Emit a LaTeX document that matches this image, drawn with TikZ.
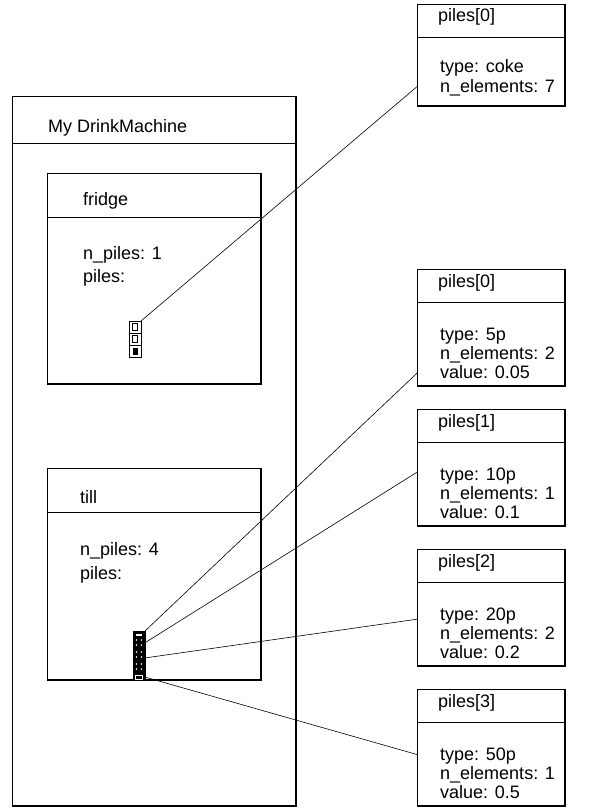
\documentclass[tikz,border=0pt]{standalone}
\usepackage{fontspec}
\setmainfont{Liberation Sans}
\usetikzlibrary{positioning,calc}

\begin{document}
\begin{tikzpicture}[
  x=1pt, y=-1pt,
  font=\fontsize{18}{19}\selectfont,
  obj/.style={draw, line width=0.7pt, inner sep=0pt, outer sep=0pt,
              anchor=north west},
  pile/.style={obj, minimum width=148pt, minimum height=117pt},
  edge/.style={line width=1.5pt},
  lbl/.style={anchor=base west, inner sep=0pt},
  link/.style={line width=0.6pt},
]
  \useasboundingbox (0,0) rectangle (595,810);

  % the machine and its two members
  \node[obj, minimum width=284pt, minimum height=710pt] (mach) at (12,96) {};
  \node[obj, minimum width=214pt, minimum height=211pt] (fr) at (47,173) {};
  \node[obj, minimum width=214pt, minimum height=212pt] (tl) at (47,468) {};

  % the piles
  \node[pile, minimum height=102pt] (tp) at (417,4) {};
  \node[pile] (p0) at (417,269) {};
  \node[pile] (p1) at (417,409) {};
  \node[pile] (p2) at (417,549) {};
  \node[pile] (p3) at (417,689) {};

  % header lines
  \draw[line width=0.7pt] ([yshift=-47pt]mach.north west) -- ([yshift=-47pt]mach.north east);
  \foreach \b in {fr,tl}
    \draw[line width=0.7pt] ([yshift=-44pt]\b.north west) -- ([yshift=-44pt]\b.north east);
  \foreach \b in {tp,p0,p1,p2,p3}
    \draw[line width=0.7pt] ([yshift=-33pt]\b.north west) -- ([yshift=-33pt]\b.north east);

  % heavier right and bottom edges
  \foreach \b in {mach,fr,tl,tp,p0,p1,p2,p3}
    \draw[edge] (\b.north east) -- (\b.south east) -- (\b.south west);

  % texts
  \node[lbl] (machname) at ([xshift=36pt,yshift=-37pt]mach.north west) {My DrinkMachine};

  \node[lbl] (frname) at ([xshift=36pt,yshift=-33pt]fr.north west) {fridge};
  \node[lbl] (frn) at ([xshift=36pt,yshift=-86pt]fr.north west) {n\_piles: 1};
  \node[lbl] (frp) at ([xshift=36pt,yshift=-109pt]fr.north west) {piles:};

  \node[lbl] (tlname) at ([xshift=33pt,yshift=-35pt]tl.north west) {till};
  \node[lbl] (tln) at ([xshift=33pt,yshift=-87pt]tl.north west) {n\_piles: 4};
  \node[lbl] (tlp) at ([xshift=33pt,yshift=-111pt]tl.north west) {piles:};

  \foreach \b/\i in {tp/0,p0/0,p1/1,p2/2,p3/3}
    \node[lbl] (\b name) at ([xshift=21pt,yshift=-18pt]\b.north west) {piles[\i]};

  \node[lbl] (tpa) at ([xshift=23pt,yshift=-69pt]tp.north west) {type: coke};
  \node[lbl] (tpb) at ([xshift=23pt,yshift=-89pt]tp.north west) {n\_elements: 7};

  \foreach \b/\t/\n/\v in {p0/5p/2/0.05, p1/10p/1/0.1, p2/20p/2/0.2, p3/50p/1/0.5} {
    \node[lbl] (\b a) at ([xshift=23pt,yshift=-71pt]\b.north west) {type: \t};
    \node[lbl] (\b b) at ([xshift=23pt,yshift=-90pt]\b.north west) {n\_elements: \n};
    \node[lbl] (\b c) at ([xshift=23pt,yshift=-109pt]\b.north west) {value: \v};
  }

  % pointer arrays
  \node[obj, line width=1pt, minimum width=12pt, minimum height=36pt] (fa) at (129,321) {};
  \foreach \k in {1,2}
    \draw[line width=1pt] ([yshift=-12*\k pt]fa.north west) -- ([yshift=-12*\k pt]fa.north east);
  \foreach \k in {0,1}
    \draw[line width=0.8pt] ([xshift=3.5pt,yshift=-2.5pt-12*\k pt]fa.north west) rectangle ++(5,7);
  \fill ([xshift=3.5pt,yshift=-26.5pt]fa.north west) rectangle ++(5,7);

  \node[obj, fill=black, minimum width=12pt, minimum height=49pt] (ta) at (133,631) {};
  \fill[white] ([xshift=3pt,yshift=-3pt]ta.north west) rectangle ++(6,1.5);
  \foreach \r in {9,14,21,26,33,38}
    \foreach \c in {3.5,8.5}
      \fill[white] ([xshift=\c pt,yshift=-\r pt]ta.north west) circle (0.8);
  \draw[white, line width=0.8pt] ([xshift=2.5pt,yshift=-44pt]ta.north west) rectangle ++(7,4);

  % links from the arrays to the piles
  \draw[link] (fa.north east) -- ($(tp.north west)!0.81!(tp.south west)$);
  \draw[link] (ta.north east) -- ($(p0.north west)!0.89!(p0.south west)$);
  \draw[link] ($(ta.north east)!0.24!(ta.south east)$) -- ($(p1.north west)!0.54!(p1.south west)$);
  \draw[link] ($(ta.north east)!0.55!(ta.south east)$) -- ($(p2.north west)!0.6!(p2.south west)$);
  \draw[link] ($(ta.north east)!0.94!(ta.south east)$) -- ($(p3.north west)!0.56!(p3.south west)$);
\end{tikzpicture}
\end{document}
